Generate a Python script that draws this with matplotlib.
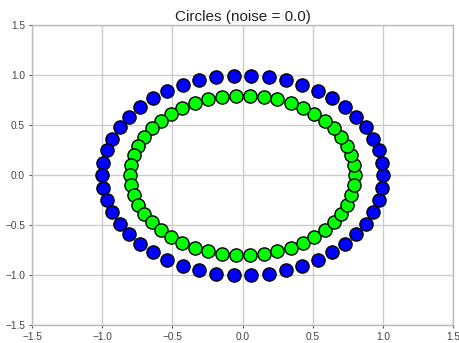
import matplotlib
matplotlib.use("Agg")
import matplotlib.pyplot as plt

plt.rcParams['font.family'] = ['Liberation Sans', 'DejaVu Sans']

title = "Circles (noise = 0.0)"

outer_x = [1.000, 0.992, 0.969, 0.930, 0.876, 0.809, 0.729, 0.637, 0.536, 0.426,
           0.309, 0.187, 0.063, -0.063, -0.187, -0.309, -0.426, -0.536, -0.637, -0.729,
           -0.809, -0.876, -0.930, -0.969, -0.992, -1.000, -0.992, -0.969, -0.930, -0.876,
           -0.809, -0.729, -0.637, -0.536, -0.426, -0.309, -0.187, -0.063, 0.063, 0.187,
           0.309, 0.426, 0.536, 0.637, 0.729, 0.809, 0.876, 0.930, 0.969, 0.992]
outer_y = [0.000, 0.125, 0.249, 0.368, 0.482, 0.588, 0.685, 0.771, 0.844, 0.905,
           0.951, 0.982, 0.998, 0.998, 0.982, 0.951, 0.905, 0.844, 0.771, 0.685,
           0.588, 0.482, 0.368, 0.249, 0.125, 0.000, -0.125, -0.249, -0.368, -0.482,
           -0.588, -0.685, -0.771, -0.844, -0.905, -0.951, -0.982, -0.998, -0.998, -0.982,
           -0.951, -0.905, -0.844, -0.771, -0.685, -0.588, -0.482, -0.368, -0.249, -0.125]
inner_x = [0.800, 0.794, 0.775, 0.744, 0.701, 0.647, 0.583, 0.510, 0.429, 0.341,
           0.247, 0.150, 0.050, -0.050, -0.150, -0.247, -0.341, -0.429, -0.510, -0.583,
           -0.647, -0.701, -0.744, -0.775, -0.794, -0.800, -0.794, -0.775, -0.744, -0.701,
           -0.647, -0.583, -0.510, -0.429, -0.341, -0.247, -0.150, -0.050, 0.050, 0.150,
           0.247, 0.341, 0.429, 0.510, 0.583, 0.647, 0.701, 0.744, 0.775, 0.794]
inner_y = [0.000, 0.100, 0.199, 0.295, 0.385, 0.470, 0.548, 0.616, 0.675, 0.724,
           0.761, 0.786, 0.798, 0.798, 0.786, 0.761, 0.724, 0.675, 0.616, 0.548,
           0.470, 0.385, 0.295, 0.199, 0.100, 0.000, -0.100, -0.199, -0.295, -0.385,
           -0.470, -0.548, -0.616, -0.675, -0.724, -0.761, -0.786, -0.798, -0.798, -0.786,
           -0.761, -0.724, -0.675, -0.616, -0.548, -0.470, -0.385, -0.295, -0.199, -0.100]

ticks = [-1.5, -1.0, -0.5, 0.0, 0.5, 1.0, 1.5]

fig = plt.figure(figsize=(4.6, 3.43), dpi=100)
ax = fig.add_axes([32/460, 1 - 325.3/343, (453.3-32)/460, (325.3-25.3)/343])

ax.scatter(outer_x, outer_y, s=90, c='#0000ff', edgecolors='black', linewidths=1, zorder=3)
ax.scatter(inner_x, inner_y, s=90, c='#00ff00', edgecolors='black', linewidths=1, zorder=3)

ax.set_xlim(-1.5, 1.5)
ax.set_ylim(-1.5, 1.5)
ax.set_xticks(ticks)
ax.set_yticks(ticks)
ax.set_xticklabels([f"{t:.1f}".replace('-', '\u2212') for t in ticks])
ax.set_yticklabels([f"{t:.1f}".replace('-', '\u2212') for t in ticks])
ax.grid(True, color='#cccccc', linewidth=1, zorder=0)
ax.set_axisbelow(True)
for sp in ax.spines.values():
    sp.set_color('#bbbbbb')
    sp.set_linewidth(1)
ax.tick_params(axis='both', labelsize=7.3, colors='#444444', length=2, width=0.8,
               direction='out', pad=3)
ax.tick_params(axis='both', color='#555555')
ax.set_title(title, fontsize=11, color='#222222', pad=3)

fig.savefig("out.png", dpi=100)
